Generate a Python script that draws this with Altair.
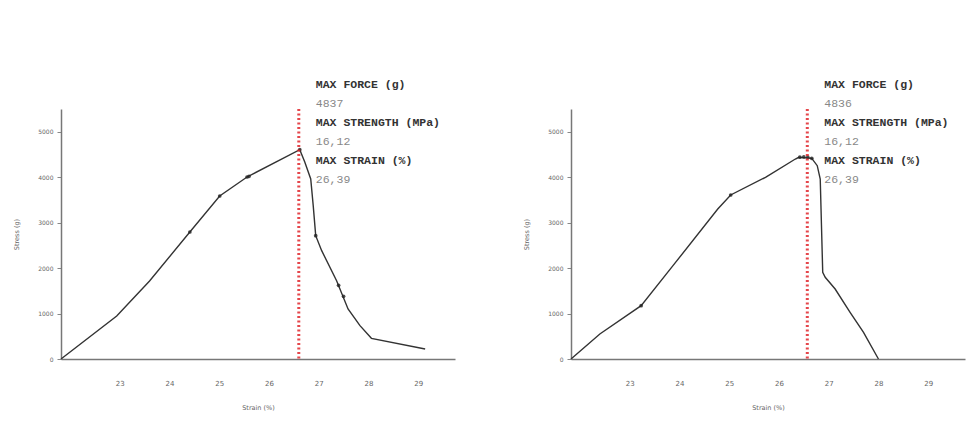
import altair as alt
import pandas as pd

# ---- data ----
left_strain = [21.82, 22.94, 23.60, 24.41, 25.01, 25.56, 26.62, 26.72, 26.84, 26.89,
               26.94, 27.06, 27.36, 27.59, 27.83, 28.06, 29.14]
left_force = [0, 946, 1716, 2794, 3586, 4004, 4605, 4334, 3960, 3373,
              2713, 2383, 1723, 1100, 733, 455, 220]

right_strain = [21.82, 22.40, 23.23, 23.87, 24.77, 25.03, 25.73, 26.33, 26.40, 26.66,
                26.77, 26.83, 26.88, 26.93, 27.13, 27.43, 27.70, 28.00]
right_force = [0, 550, 1173, 2053, 3300, 3608, 3997, 4400, 4437, 4415,
               4253, 3960, 1907, 1797, 1540, 1027, 587, 0]

left_blob_strain = [24.41, 25.01, 25.56, 25.60, 26.62, 26.94, 27.40, 27.50]
left_blob_force = [2794, 3586, 4004, 4020, 4605, 2713, 1620, 1380]
right_blob_strain = [23.23, 25.03, 26.42, 26.50, 26.58, 26.66]
right_blob_force = [1173, 3608, 4440, 4445, 4440, 4415]

max_line_strain = [26.60, 26.57]
max_force = ["4837", "4836"]
max_strength = ["16,12", "16,12"]
max_strain = ["26,39", "26,39"]

x_ticks = [23, 24, 25, 26, 27, 28, 29]
y_ticks = [0, 1000, 2000, 3000, 4000, 5000]
x_domain = [21.82, 29.74]
y_domain = [0, 5500]

x_title = "Strain (%)"
y_title = "Stress (g)"
label_names = ["MAX FORCE (g)", "MAX STRENGTH (MPa)", "MAX STRAIN (%)"]

W, H = 394, 250
LINE_H = 19
FIRST_BASELINE = -21


def panel(strain, force, bstrain, bforce, i):
    curve = pd.DataFrame({"strain": strain, "force": force, "order": list(range(len(strain)))})
    blobs = pd.DataFrame({"strain": bstrain, "force": bforce})
    marker = pd.DataFrame({"strain": [max_line_strain[i]]})
    value_list = [max_force[i], max_strength[i], max_strain[i]]

    xs = alt.Scale(domain=x_domain, nice=False, zero=False)
    ys = alt.Scale(domain=y_domain, nice=False)
    xax = alt.Axis(values=x_ticks, format="d", title=x_title, grid=False, ticks=False,
                   labelPadding=20, labelFontSize=7, labelColor="#666", titleFontSize=6.5,
                   titleColor="#666", titlePadding=18, titleFontWeight="normal",
                   domainColor="#777", domainWidth=1.5, labelFlush=False)
    yax = alt.Axis(values=y_ticks, format="d", title=y_title, grid=False, tickSize=4,
                   tickColor="#888", labelPadding=4, labelFontSize=6, labelColor="#666",
                   titleFontSize=6.5, titleColor="#666", titlePadding=18,
                   titleFontWeight="normal", domainColor="#777", domainWidth=1.5)

    line = alt.Chart(curve).mark_line(color="#333333", strokeWidth=1.4).encode(
        x=alt.X("strain:Q", scale=xs, axis=xax),
        y=alt.Y("force:Q", scale=ys, axis=yax),
        order="order:Q",
    )
    pts = alt.Chart(blobs).mark_point(filled=True, color="#222222", size=14, opacity=0.8).encode(
        x=alt.X("strain:Q", scale=xs),
        y=alt.Y("force:Q", scale=ys),
    )
    rule = alt.Chart(marker).mark_rule(color="#e0262b", strokeWidth=3, strokeDash=[2, 2.5],
                                       opacity=0.85).encode(
        x=alt.X("strain:Q", scale=xs),
    )
    layers = [line, pts, rule]
    for k in range(3):
        for j, (txt, bold) in enumerate([(label_names[k], True), (value_list[k], False)]):
            row = 2 * k + j
            tdf = pd.DataFrame({"strain": [max_line_strain[i]], "t": [txt]})
            layers.append(
                alt.Chart(tdf).mark_text(
                    align="left", baseline="alphabetic", dx=17, font="Liberation Mono",
                    fontSize=11.5, fontWeight="bold" if bold else "normal",
                    color="#333333" if bold else "#888888",
                ).encode(
                    x=alt.X("strain:Q", scale=xs),
                    y=alt.value(FIRST_BASELINE + LINE_H * row),
                    text="t:N",
                )
            )
    return alt.layer(*layers).properties(width=W, height=H)


left = panel(left_strain, left_force, left_blob_strain, left_blob_force, 0)
right = panel(right_strain, right_force, right_blob_strain, right_blob_force, 1)

chart = alt.hconcat(left, right, spacing=68).properties(
    padding={"left": 13, "top": 79, "right": 5, "bottom": 5},
    background="white",
).configure_view(stroke=None).configure_axis(labelFont="DejaVu Sans", titleFont="DejaVu Sans")

chart.save("out.html", embed_options={"renderer": "svg", "actions": False})
